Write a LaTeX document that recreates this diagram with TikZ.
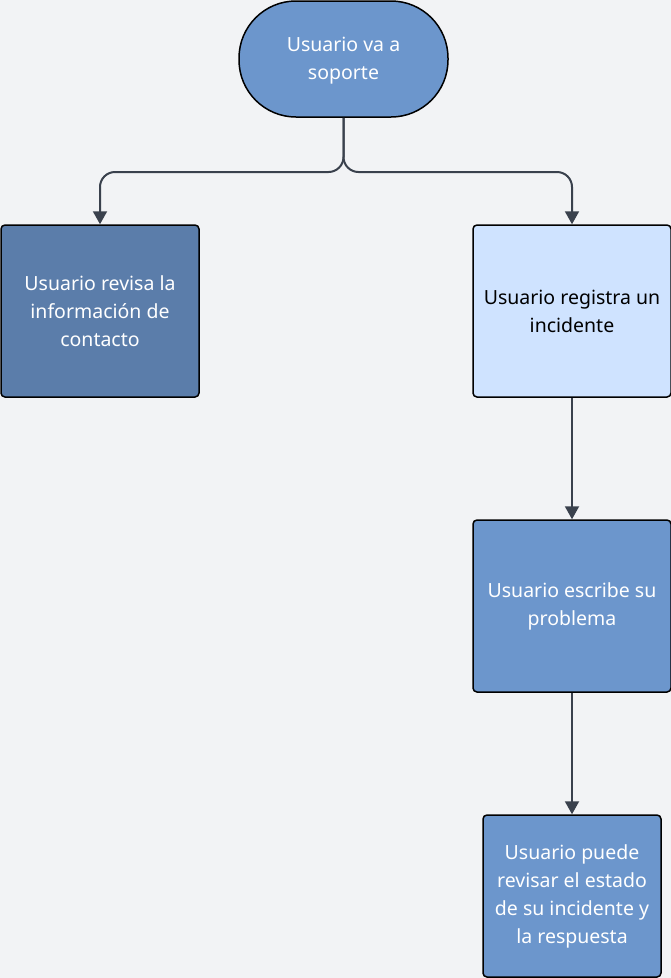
\documentclass[tikz,border=0pt]{standalone}
\usepackage{fontspec}
\setmainfont{Noto Sans}
\usetikzlibrary{arrows.meta}
\definecolor{bg}{HTML}{F2F3F5}
\definecolor{midblue}{HTML}{6C96CC}
\definecolor{darkblue}{HTML}{5B7DAA}
\definecolor{lightblue}{HTML}{CFE3FF}
\definecolor{conncol}{HTML}{3A414D}
\tikzset{
  box/.style={draw=black, line width=1.5pt, rounded corners=4pt, align=center,
    font=\fontsize{19.5}{28}\selectfont, inner sep=0pt},
  conn/.style={draw=conncol, line width=2pt, rounded corners=15pt,
    -{Triangle[width=14pt,length=13pt]}}
}
\begin{document}
\begin{tikzpicture}[x=1pt,y=-1pt]
\fill[bg] (0,0) rectangle (671,978);
\useasboundingbox (0,0) rectangle (671,978);
\node[box, fill=midblue, text=white, rounded corners=57pt, minimum width=209pt, minimum height=116pt]
  (top) at (343.5,59) {};
\node[align=center, text=white, font=\fontsize{19.5}{28}\selectfont, inner sep=0pt]
  (toptext) at (343.5,61) {Usuario va a\\soporte};
\node[box, fill=darkblue, text=white, minimum width=198pt, minimum height=172pt]
  (left) at (100,311) {Usuario revisa la\\información de\\contacto};
\node[box, fill=lightblue, text=black, minimum width=198pt, minimum height=172pt]
  (reg) at (572,311) {Usuario registra un\\incidente};
\node[box, fill=midblue, text=white, minimum width=198pt, minimum height=172pt]
  (esc) at (572,606) {Usuario escribe su\\problema};
\node[box, fill=midblue, text=white, minimum width=178pt, minimum height=162pt]
  (rev) at (572,896) {Usuario puede\\revisar el estado\\de su incidente y\\la respuesta};
\coordinate (j) at (343.5,172);
\draw[conn] (top.south) -- (j) -| (left.north);
\draw[conn] (top.south) -- (j) -| (reg.north);
\draw[conn] (reg.south) -- (esc.north);
\draw[conn] (esc.south) -- (rev.north);
\end{tikzpicture}
\end{document}
